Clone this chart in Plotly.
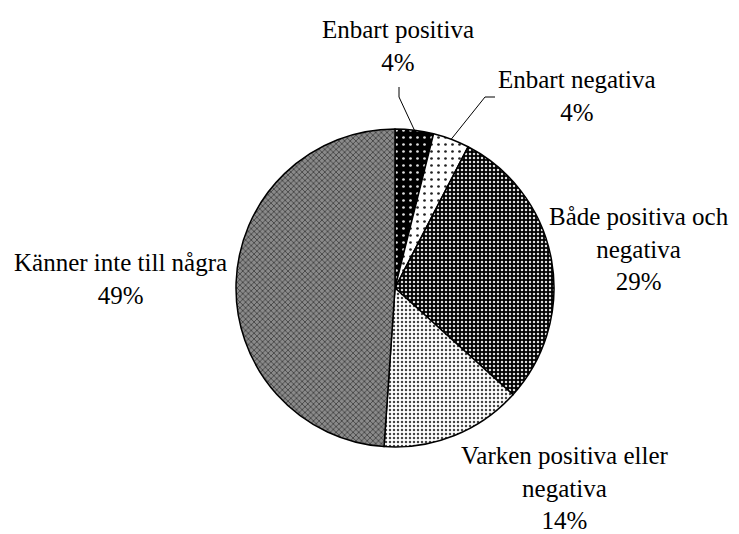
import math
import plotly.graph_objects as go

# ---- data ----
categories = ["Enbart positiva", "Enbart negativa", "Både positiva och negativa",
              "Varken positiva eller negativa", "Känner inte till några"]
label_text = ["Enbart positiva", "Enbart negativa", "Både positiva och<br>negativa",
              "Varken positiva eller<br>negativa", "Känner inte till några"]
values = [3.9, 3.7, 29.1, 14.4, 48.9]

# ---- styles ----
bg_colors = ["#000000", "#ffffff", "#000000", "#ffffff", "#8a8a8a"]
fg_colors = ["#e0e0e0", "#222222", "#dddddd", "#444444", "#2a2a2a"]
pat_shapes = [".", ".", ".", ".", "x"]
pat_sizes = [7, 7, 4, 4, 4]
pat_solid = [0.12, 0.12, 0.3, 0.3, 0.3]

OFF = 8  # page body margin of the html page
W, H = 739 - OFF, 534 - OFF
CX, CY, R = 395, 288, 159  # pixel layout of the pie (window coords)


def px(x):
    return (x - OFF) / W


def py(y):
    return 1 - (y - OFF) / H


fig = go.Figure(go.Pie(
    labels=categories,
    values=values,
    sort=False,
    direction="clockwise",
    rotation=0,
    textinfo="none",
    hoverinfo="label+percent",
    marker=dict(
        colors=bg_colors,
        line=dict(color="black", width=1.5),
        pattern=dict(shape=pat_shapes, fgcolor=fg_colors, bgcolor=bg_colors,
                     size=pat_sizes, solidity=pat_solid, fillmode="replace"),
    ),
    domain=dict(x=[px(CX - R), px(CX + R)], y=[py(CY + R), py(CY - R)]),
    showlegend=False,
))

total = sum(values)
pcts = [round(v / total * 100) for v in values]

# label anchor positions (window pixels, top-centre of text block), same order as categories
label_pos = [(398, 14), (577, 64), (639, 201), (565, 440), (120, 247)]

font = dict(family="Liberation Serif, Times New Roman, serif", size=25, color="black")
annotations = []
for txt, p, (lx, ly) in zip(label_text, pcts, label_pos):
    annotations.append(dict(
        text=f"{txt}<br>{p}%", x=px(lx), y=py(ly), xref="paper", yref="paper",
        xanchor="center", yanchor="top", showarrow=False, font=font, align="center",
    ))

# leader lines for the two small slices, ending at the slice mid-angle on the rim
cum = 0
mids = []
for v in values:
    mids.append((cum + v / 2) / total * 2 * math.pi)
    cum += v


def rim(a):
    return CX + R * math.sin(a), CY - R * math.cos(a)


shapes = []
elbows = [[(399, 87), (399, 97)], [(495, 97), (485, 97)]]
for i, pts in enumerate(elbows):
    ex, ey = rim(mids[i])
    allpts = pts + [(ex, ey)]
    path = "M " + " L ".join(f"{px(x)},{py(y)}" for x, y in allpts)
    shapes.append(dict(type="path", path=path, xref="paper", yref="paper",
                       line=dict(color="black", width=1)))

fig.update_layout(
    width=W, height=H,
    margin=dict(l=0, r=0, t=0, b=0),
    paper_bgcolor="white", plot_bgcolor="white",
    annotations=annotations, shapes=shapes,
)

fig.write_html("out.html")
